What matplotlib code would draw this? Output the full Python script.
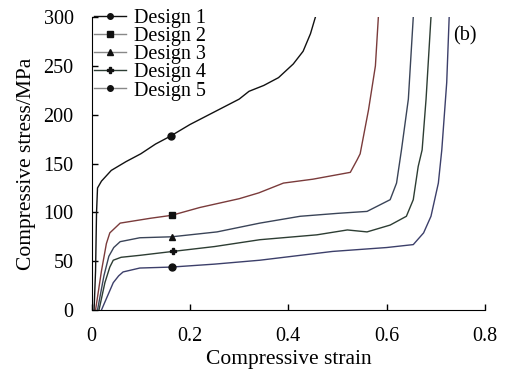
import numpy as np
import matplotlib.pyplot as plt

plt.rcParams['font.family'] = ['Liberation Serif', 'DejaVu Serif']

# data (strain, stress in MPa)
d1_strain = [0.005, 0.008, 0.010, 0.012, 0.02, 0.04, 0.07, 0.10, 0.13, 0.16, 0.20, 0.25,
             0.30, 0.32, 0.35, 0.38, 0.41, 0.43, 0.445, 0.455]
d1_stress = [0, 40, 100, 125, 132, 143, 152, 160, 170, 178, 190, 203,
             216, 224, 230, 238, 252, 265, 283, 300]

d2_strain = [0.008, 0.02, 0.03, 0.037, 0.058, 0.12, 0.163, 0.22, 0.30, 0.34, 0.39, 0.45,
             0.526, 0.54, 0.546, 0.563, 0.577, 0.583]
d2_stress = [0, 40, 68, 79, 89, 94, 97, 105, 114, 120, 130, 134,
             141, 154, 160, 205, 250, 300]

d3_strain = [0.012, 0.025, 0.035, 0.045, 0.058, 0.098, 0.163, 0.255, 0.342, 0.424, 0.50,
             0.56, 0.607, 0.62, 0.63, 0.644, 0.654]
d3_stress = [0, 35, 55, 64, 70, 74, 75, 80, 89, 96, 99,
             101, 113, 130, 164, 216, 300]

d4_strain = [0.015, 0.027, 0.037, 0.044, 0.06, 0.098, 0.165, 0.25, 0.342, 0.458, 0.52,
             0.56, 0.607, 0.64, 0.654, 0.664, 0.672, 0.68, 0.69]
d4_stress = [0, 28, 44, 51, 54, 56, 60, 65, 72, 77, 82,
             80, 87, 96, 113, 147, 164, 216, 300]

d5_strain = [0.02, 0.032, 0.044, 0.055, 0.064, 0.098, 0.163, 0.25, 0.342, 0.49, 0.60,
             0.654, 0.675, 0.69, 0.705, 0.712, 0.722, 0.727]
d5_stress = [0, 14, 28, 35, 39, 43, 44, 47, 51, 60, 64,
             67, 79, 96, 130, 164, 233, 300]

# marker positions on each curve
mark_strain = [0.161, 0.163, 0.163, 0.165, 0.163]
mark_stress = [178, 97, 75, 60, 44]

labels = ['Design 1', 'Design 2', 'Design 3', 'Design 4', 'Design 5']
colors = ['#111111', '#7a3b3b', '#3a4458', '#2d3d33', '#3c3f6a']
markers = ['o', 's', '^', 'P', 'o']

curves = [(d1_strain, d1_stress), (d2_strain, d2_stress), (d3_strain, d3_stress),
          (d4_strain, d4_stress), (d5_strain, d5_stress)]

fig = plt.figure(figsize=(5.09, 3.76), dpi=100)
ax = fig.add_axes([0.180, 0.1755, 0.773, 0.779])

for i, (xs, ys) in enumerate(curves):
    ax.plot(xs, ys, color=colors[i], lw=1.0)
    ax.plot(mark_strain[i], mark_stress[i], marker=markers[i], color='#111111',
            ms=5, ls='none')
    # legend proxy
    ax.plot([], [], color=colors[i] if i in (0, 3) else '#888888', lw=1.0,
            marker=markers[i], ms=4, mfc='#111111', mec='#111111', label=labels[i])

ax.set_xlim(0, 0.8)
ax.set_ylim(0, 300)
ax.set_xticks([0, 0.2, 0.4, 0.6, 0.8])
ax.set_xticklabels(['0', '0.2', '0.4', '0.6', '0.8'])
ax.set_yticks([0, 50, 100, 150, 200, 250, 300])
ax.tick_params(direction='in', labelsize=14.5, length=4, width=1)
ax.tick_params(axis='x', pad=12)
ax.tick_params(axis='y', pad=13)
for s in ['top', 'right']:
    ax.spines[s].set_visible(False)

ax.set_xlabel('Compressive strain', fontsize=15.5, labelpad=3)
ax.set_ylabel('Compressive stress/MPa', fontsize=15.5, labelpad=5)
ax.text(0.735, 276, '(b)', fontsize=14.5)

ax.legend(loc='upper left', bbox_to_anchor=(-0.015, 1.055), frameon=False, fontsize=14.5,
          handlelength=1.6, handletextpad=0.4, labelspacing=-0.05, borderaxespad=0)

fig.savefig('out.png', dpi=100)
